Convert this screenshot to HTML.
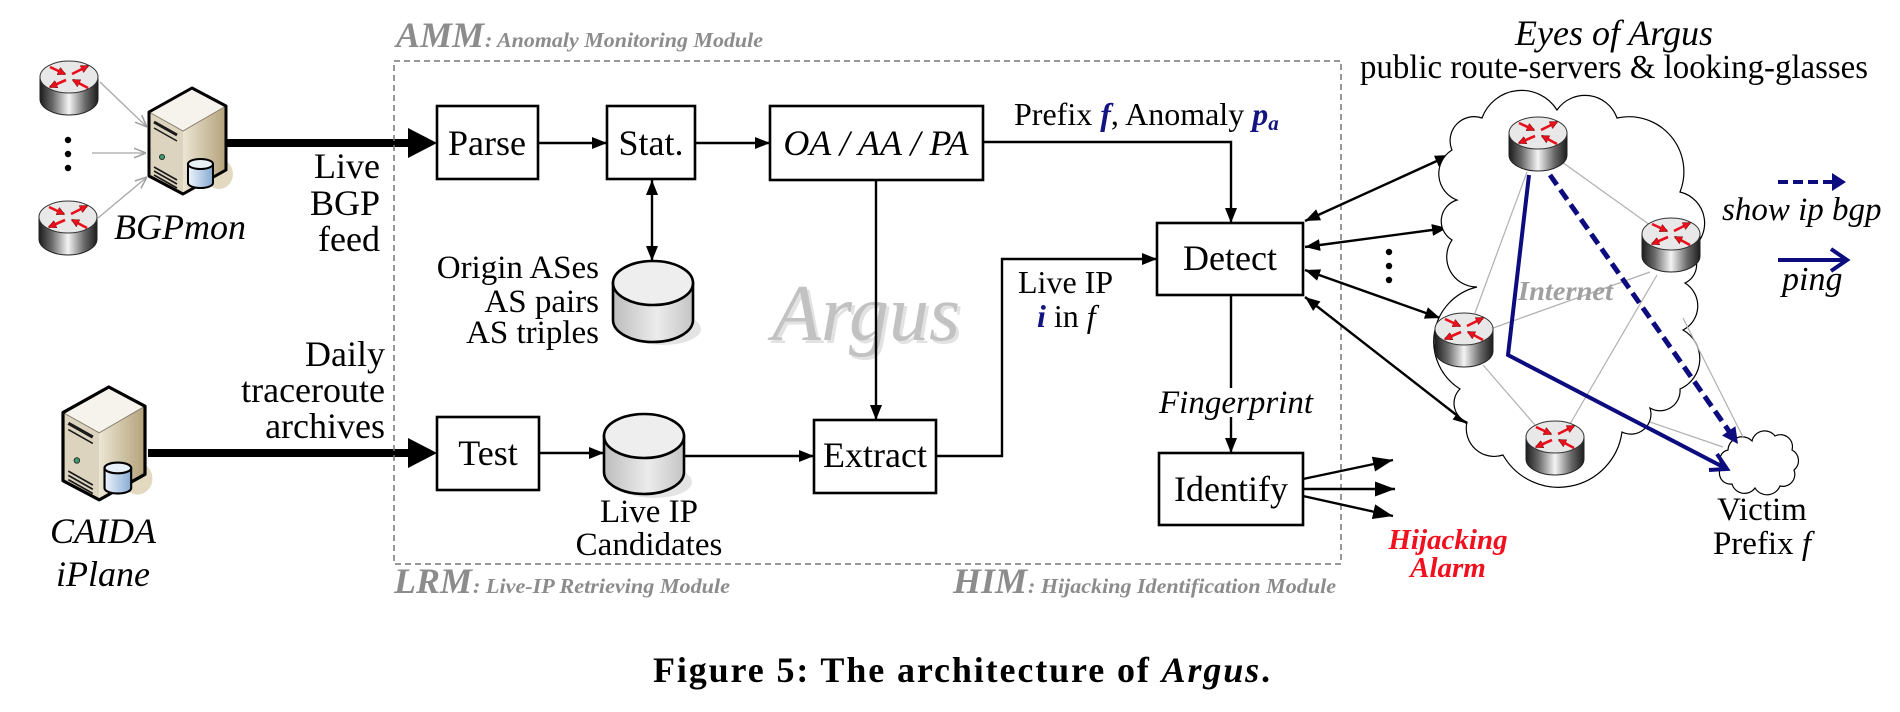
<!DOCTYPE html>
<html>
<head>
<meta charset="utf-8">
<style>
  html,body{margin:0;padding:0;background:#fff;}
  svg{display:block;}
  text{font-family:"Liberation Serif","Times New Roman",serif;}
</style>
</head>
<body>
<svg width="1900" height="712" viewBox="0 0 1900 712" xmlns="http://www.w3.org/2000/svg" font-family="'Liberation Serif', serif">
<defs>
  <linearGradient id="rbody" x1="0" x2="1" y1="0" y2="0">
    <stop offset="0" stop-color="#1c1c1c"/>
    <stop offset="0.22" stop-color="#6a6a6a"/>
    <stop offset="0.5" stop-color="#f4f4f4"/>
    <stop offset="0.78" stop-color="#6a6a6a"/>
    <stop offset="1" stop-color="#1c1c1c"/>
  </linearGradient>
  <linearGradient id="cylg" x1="0" x2="1" y1="0" y2="0">
    <stop offset="0" stop-color="#bdbdbd"/>
    <stop offset="0.55" stop-color="#ececec"/>
    <stop offset="1" stop-color="#c4c4c4"/>
  </linearGradient>
  <linearGradient id="beige" x1="0" x2="1" y1="0" y2="0">
    <stop offset="0" stop-color="#ece5d3"/>
    <stop offset="1" stop-color="#b3a27a"/>
  </linearGradient>
  <linearGradient id="blue" x1="0" x2="1" y1="0" y2="0">
    <stop offset="0" stop-color="#eef4fb"/>
    <stop offset="1" stop-color="#86aad3"/>
  </linearGradient>
  <marker id="ah" viewBox="0 0 10 10" refX="10" refY="5" markerWidth="15" markerHeight="12" markerUnits="userSpaceOnUse" orient="auto-start-reverse" preserveAspectRatio="none">
    <path d="M0,0 L10,5 L0,10 z" fill="#000"/>
  </marker>
  <marker id="ahbig" viewBox="0 0 10 10" refX="10" refY="5" markerWidth="20" markerHeight="15" markerUnits="userSpaceOnUse" orient="auto" preserveAspectRatio="none">
    <path d="M0,0 L10,5 L0,10 z" fill="#000"/>
  </marker>
  <marker id="go" viewBox="0 0 10 10" refX="10" refY="5" markerWidth="12" markerHeight="12" markerUnits="userSpaceOnUse" orient="auto">
    <path d="M0,1 L10,5 L0,9" fill="none" stroke="#a0a0a0" stroke-width="1.3"/>
  </marker>
  <marker id="ra" viewBox="0 0 10 10" refX="9" refY="5" markerWidth="8" markerHeight="8" markerUnits="userSpaceOnUse" orient="auto" preserveAspectRatio="none">
    <path d="M0,0 L10,5 L0,10 z" fill="#e8101c" stroke="#600" stroke-width="0.6"/>
  </marker>

  <g id="router">
    <path d="M-29,16 V38 A29,16 0 0 0 29,38 V16 Z" fill="url(#rbody)" stroke="#222" stroke-width="1"/>
    <ellipse cx="0" cy="16" rx="29" ry="16" fill="#e8e8e8" stroke="#333" stroke-width="1"/>
    <g stroke="#e8101c" stroke-width="2.6" fill="none">
      <line x1="-19" y1="6" x2="-4" y2="13" marker-end="url(#ra)"/>
      <line x1="3" y1="13" x2="19" y2="5" marker-end="url(#ra)"/>
      <line x1="-3" y1="19" x2="-19" y2="26" marker-end="url(#ra)"/>
      <line x1="19" y1="27" x2="4" y2="19" marker-end="url(#ra)"/>
    </g>
  </g>

  <g id="server">
    <ellipse cx="70" cy="86" rx="14" ry="15" fill="#e2d9c0"/>
    <polygon points="0,24 43,0 77,18 34,43" fill="#f6f3ec"/>
    <polygon points="0,24 34,43 34,106 0,88" fill="#ddd4bf"/>
    <polygon points="34,43 77,18 77,82 34,106" fill="url(#beige)"/>
    <polyline points="0,24 34,43 77,18" fill="none" stroke="#8a8070" stroke-width="1"/>
    <polygon points="0,24 43,0 77,18 77,82 34,106 0,88" fill="none" stroke="#000" stroke-width="3" stroke-linejoin="round"/>
    <g stroke="#1a1a1a" fill="none">
      <line x1="5" y1="34" x2="28" y2="47" stroke-width="3"/>
      <line x1="5" y1="40" x2="28" y2="53" stroke-width="1.5"/>
      <line x1="5" y1="79" x2="28" y2="92" stroke-width="1.6"/>
      <line x1="5" y1="83" x2="28" y2="96" stroke-width="1.6"/>
      <line x1="5" y1="87" x2="28" y2="100" stroke-width="1.6"/>
    </g>
    <circle cx="13" cy="69" r="2.6" fill="#3b9a6a" stroke="#222" stroke-width="0.8"/>
    <path d="M39,76 V95 A12.5,5 0 0 0 64,95 V76 Z" fill="url(#blue)" stroke="#000" stroke-width="2"/>
    <ellipse cx="51.5" cy="76" rx="12.5" ry="5" fill="#e8f0f8" stroke="#000" stroke-width="2"/>
  </g>
</defs>

<!-- ============ Left sources ============ -->
<use href="#router" x="69" y="61"/>
<use href="#router" x="68" y="201"/>
<circle cx="68" cy="140" r="3.2" fill="#000"/>
<circle cx="68" cy="154" r="3.2" fill="#000"/>
<circle cx="68" cy="168" r="3.2" fill="#000"/>
<g stroke="#a8a8a8" stroke-width="1.3" fill="none">
  <line x1="100" y1="82" x2="147" y2="127" marker-end="url(#go)"/>
  <line x1="92" y1="153" x2="146" y2="153" marker-end="url(#go)"/>
  <line x1="98" y1="218" x2="147" y2="177" marker-end="url(#go)"/>
</g>
<use href="#server" transform="translate(149,88)"/>
<use href="#server" transform="translate(63,387) scale(1.065)"/>

<text x="114" y="239" font-size="36" font-style="italic">BGPmon</text>
<text x="103" y="543" font-size="36" font-style="italic" text-anchor="middle">CAIDA</text>
<text x="103" y="586" font-size="36" font-style="italic" text-anchor="middle">iPlane</text>

<text x="380" y="178" font-size="36" text-anchor="end">Live</text>
<text x="380" y="215" font-size="36" text-anchor="end">BGP</text>
<text x="380" y="251" font-size="36" text-anchor="end">feed</text>
<text x="385" y="366" font-size="36" text-anchor="end">Daily</text>
<text x="385" y="402" font-size="36" text-anchor="end">traceroute</text>
<text x="385" y="438" font-size="36" text-anchor="end">archives</text>

<!-- thick arrows -->
<line x1="226" y1="143" x2="412" y2="143" stroke="#000" stroke-width="8"/>
<polygon points="408,128 437,143 408,158" fill="#000"/>
<line x1="148" y1="453" x2="412" y2="453" stroke="#000" stroke-width="8"/>
<polygon points="408,438 437,453 408,468" fill="#000"/>

<!-- ============ Dashed module box ============ -->
<rect x="394" y="61" width="947" height="503" fill="none" stroke="#777" stroke-width="1.5" stroke-dasharray="6,4"/>

<text x="396" y="47" font-size="36" font-weight="bold" font-style="italic" fill="#8c8c8c">AMM</text>
<text x="485" y="47" font-size="21" font-weight="bold" font-style="italic" fill="#8c8c8c" textLength="278" lengthAdjust="spacingAndGlyphs">: Anomaly Monitoring Module</text>
<text x="394" y="593" font-size="36" font-weight="bold" font-style="italic" fill="#8c8c8c">LRM</text>
<text x="473" y="593" font-size="21" font-weight="bold" font-style="italic" fill="#8c8c8c" textLength="257" lengthAdjust="spacingAndGlyphs">: Live-IP Retrieving Module</text>
<text x="953" y="593" font-size="36" font-weight="bold" font-style="italic" fill="#8c8c8c">HIM</text>
<text x="1028" y="593" font-size="21" font-weight="bold" font-style="italic" fill="#8c8c8c" textLength="308" lengthAdjust="spacingAndGlyphs">: Hijacking Identification Module</text>

<!-- Argus watermark -->
<text x="775" y="343" font-size="80" font-style="italic" fill="#e2e2e2">Argus</text>
<text x="772" y="340" font-size="80" font-style="italic" fill="#c2c2c2">Argus</text>

<!-- boxes -->
<g fill="#fff" stroke="#000" stroke-width="2.6">
  <rect x="437" y="106" width="101" height="73"/>
  <rect x="607" y="106" width="88" height="73"/>
  <rect x="770" y="106" width="213" height="74"/>
  <rect x="437" y="417" width="102" height="73"/>
  <rect x="814" y="420" width="122" height="73"/>
  <rect x="1157" y="223" width="146" height="72"/>
  <rect x="1159" y="453" width="144" height="72"/>
</g>
<text x="487" y="155" font-size="36" text-anchor="middle">Parse</text>
<text x="651" y="155" font-size="36" text-anchor="middle">Stat.</text>
<text x="876" y="155" font-size="36" font-style="italic" text-anchor="middle">OA / AA / PA</text>
<text x="488" y="465" font-size="36" text-anchor="middle">Test</text>
<text x="875" y="467" font-size="36" text-anchor="middle">Extract</text>
<text x="1230" y="270" font-size="36" text-anchor="middle">Detect</text>
<text x="1231" y="501" font-size="36" text-anchor="middle">Identify</text>

<!-- cylinders -->
<ellipse cx="663" cy="329" rx="38" ry="16" fill="#e4e4e4"/>
<path d="M613,283 V320 A40,22 0 0 0 693,320 V283 Z" fill="url(#cylg)" stroke="#000" stroke-width="2.6"/>
<ellipse cx="653" cy="283" rx="40" ry="22" fill="#eeeeee" stroke="#000" stroke-width="2.6"/>

<ellipse cx="654" cy="482" rx="38" ry="16" fill="#e4e4e4"/>
<path d="M604,436 V472 A40,22 0 0 0 684,472 V436 Z" fill="url(#cylg)" stroke="#000" stroke-width="2.6"/>
<ellipse cx="644" cy="436" rx="40" ry="22" fill="#eeeeee" stroke="#000" stroke-width="2.6"/>

<text x="599" y="278" font-size="33" text-anchor="end">Origin ASes</text>
<text x="599" y="312" font-size="33" text-anchor="end">AS pairs</text>
<text x="599" y="343" font-size="33" text-anchor="end">AS triples</text>
<text x="649" y="522" font-size="33" text-anchor="middle">Live IP</text>
<text x="649" y="555" font-size="33" text-anchor="middle">Candidates</text>

<!-- connectors -->
<g stroke="#000" stroke-width="2.4" fill="none">
  <line x1="538" y1="143" x2="607" y2="143" marker-end="url(#ah)"/>
  <line x1="695" y1="143" x2="770" y2="143" marker-end="url(#ah)"/>
  <line x1="652" y1="180" x2="652" y2="261" marker-start="url(#ah)" marker-end="url(#ah)"/>
  <line x1="876" y1="180" x2="876" y2="420" marker-end="url(#ah)"/>
  <path d="M983,142 H1231 V223" marker-end="url(#ah)"/>
  <line x1="539" y1="453" x2="604" y2="453" marker-end="url(#ah)"/>
  <line x1="684" y1="456" x2="814" y2="456" marker-end="url(#ah)"/>
  <path d="M936,456 H1002 V259 H1157" marker-end="url(#ah)"/>
  <line x1="1231" y1="295" x2="1231" y2="388"/>
  <line x1="1231" y1="417" x2="1231" y2="453" marker-end="url(#ah)"/>
  <line x1="1303" y1="479" x2="1393" y2="460" marker-end="url(#ahbig)"/>
  <line x1="1303" y1="489" x2="1395" y2="489" marker-end="url(#ahbig)"/>
  <line x1="1303" y1="496" x2="1393" y2="516" marker-end="url(#ahbig)"/>
  <line x1="1305" y1="221" x2="1450" y2="155" marker-start="url(#ah)" marker-end="url(#ah)"/>
  <line x1="1305" y1="247" x2="1447" y2="228" marker-start="url(#ah)" marker-end="url(#ah)"/>
  <line x1="1305" y1="270" x2="1440" y2="318" marker-start="url(#ah)" marker-end="url(#ah)"/>
  <line x1="1305" y1="297" x2="1468" y2="424" marker-start="url(#ah)" marker-end="url(#ah)"/>
</g>
<circle cx="1389" cy="252" r="3.2" fill="#000"/>
<circle cx="1389" cy="266" r="3.2" fill="#000"/>
<circle cx="1389" cy="280" r="3.2" fill="#000"/>

<text x="1014" y="125" font-size="32">Prefix <tspan font-weight="bold" font-style="italic" fill="#141480">f</tspan>, Anomaly <tspan font-weight="bold" font-style="italic" fill="#141480">p</tspan><tspan font-weight="bold" font-style="italic" fill="#141480" font-size="21" dy="5">a</tspan></text>
<text x="1018" y="293" font-size="32">Live IP</text>
<text x="1037" y="327" font-size="32"><tspan font-weight="bold" font-style="italic" fill="#141480">i</tspan> in <tspan font-style="italic">f</tspan></text>
<text x="1236" y="413" font-size="33" font-style="italic" text-anchor="middle">Fingerprint</text>

<text x="1448" y="549" font-size="29" font-weight="bold" font-style="italic" fill="#f0101e" text-anchor="middle">Hijacking</text>
<text x="1448" y="577" font-size="29" font-weight="bold" font-style="italic" fill="#f0101e" text-anchor="middle">Alarm</text>

<!-- ============ Eyes of Argus ============ -->
<text x="1614" y="45" font-size="36" font-style="italic" text-anchor="middle">Eyes of Argus</text>
<text x="1360" y="78" font-size="34" textLength="508" lengthAdjust="spacingAndGlyphs">public route-servers &amp; looking-glasses</text>

<path d="M1452,150 A24,24 0 0 1 1482,118 A42,42 0 0 1 1557,110 A34,34 0 0 1 1617,118 A55,55 0 0 1 1680,192 A32,32 0 0 1 1690,250 A20,20 0 0 1 1685,283 A27,27 0 0 1 1683,330 A33,33 0 0 1 1680,389 A20,20 0 0 1 1650,408 A20,20 0 0 1 1622,432 A64,64 0 0 1 1503,455 A28,28 0 0 1 1467,422 A20,20 0 0 1 1460,389 A56,56 0 0 1 1477,287 A30,30 0 0 1 1452,240 A22,22 0 0 1 1457,200 A28,28 0 0 1 1452,150 Z" fill="#fff" stroke="#000" stroke-width="1.2"/>

<path d="M1728,450 A14,14 0 0 1 1752,441 A13,13 0 0 1 1775,436 A12,12 0 0 1 1792,450 A12,12 0 0 1 1794,470 A12,12 0 0 1 1780,486 A14,14 0 0 1 1755,488 A13,13 0 0 1 1732,484 A11,11 0 0 1 1722,466 A10,10 0 0 1 1728,450 Z" fill="#fff" stroke="#000" stroke-width="1.2"/>

<g stroke="#b0b0b0" stroke-width="1.2">
  <line x1="1562" y1="162" x2="1650" y2="225"/>
  <line x1="1527" y1="172" x2="1475" y2="313"/>
  <line x1="1493" y1="328" x2="1650" y2="272"/>
  <line x1="1657" y1="275" x2="1570" y2="424"/>
  <line x1="1483" y1="365" x2="1535" y2="425"/>
  <line x1="1683" y1="318" x2="1743" y2="437"/>
  <line x1="1650" y1="422" x2="1723" y2="447"/>
</g>

<text x="1518" y="300" font-size="27" font-weight="bold" font-style="italic" fill="#a0a0a0" textLength="95" lengthAdjust="spacingAndGlyphs">Internet</text>

<!-- blue paths -->
<polyline points="1529,175 1508,355 1727,469" fill="none" stroke="#0c0c7e" stroke-width="4" stroke-linejoin="miter"/>
<polyline points="1717,454 1727,469 1709,470" fill="none" stroke="#0c0c7e" stroke-width="4"/>
<line x1="1550" y1="175" x2="1731" y2="434" stroke="#0c0c7e" stroke-width="5" stroke-dasharray="12,6"/>
<polygon points="1722,435.5 1738,444 1735.4,426.3" fill="#0c0c7e"/>

<use href="#router" x="1538" y="117"/>
<use href="#router" x="1671" y="218"/>
<use href="#router" x="1464" y="313"/>
<use href="#router" x="1555" y="421"/>

<text x="1762" y="520" font-size="33" text-anchor="middle">Victim</text>
<text x="1762" y="554" font-size="33" text-anchor="middle">Prefix <tspan font-style="italic">f</tspan></text>

<!-- legend -->
<line x1="1778" y1="182" x2="1833" y2="182" stroke="#0c0c7e" stroke-width="4" stroke-dasharray="10,5"/>
<polygon points="1832,173 1846,182 1832,191" fill="#0c0c7e"/>
<text x="1722" y="220" font-size="33" font-style="italic">show ip bgp</text>
<line x1="1778" y1="260" x2="1846" y2="260" stroke="#0c0c7e" stroke-width="4"/>
<polyline points="1831,249 1847,260 1831,271" fill="none" stroke="#0c0c7e" stroke-width="4"/>
<text x="1782" y="290" font-size="34" font-style="italic">ping</text>

<!-- caption -->
<text x="653" y="682" font-size="36" font-weight="bold" textLength="617" lengthAdjust="spacing">Figure 5: The architecture of <tspan font-style="italic">Argus</tspan>.</text>
</svg>
</body>
</html>
